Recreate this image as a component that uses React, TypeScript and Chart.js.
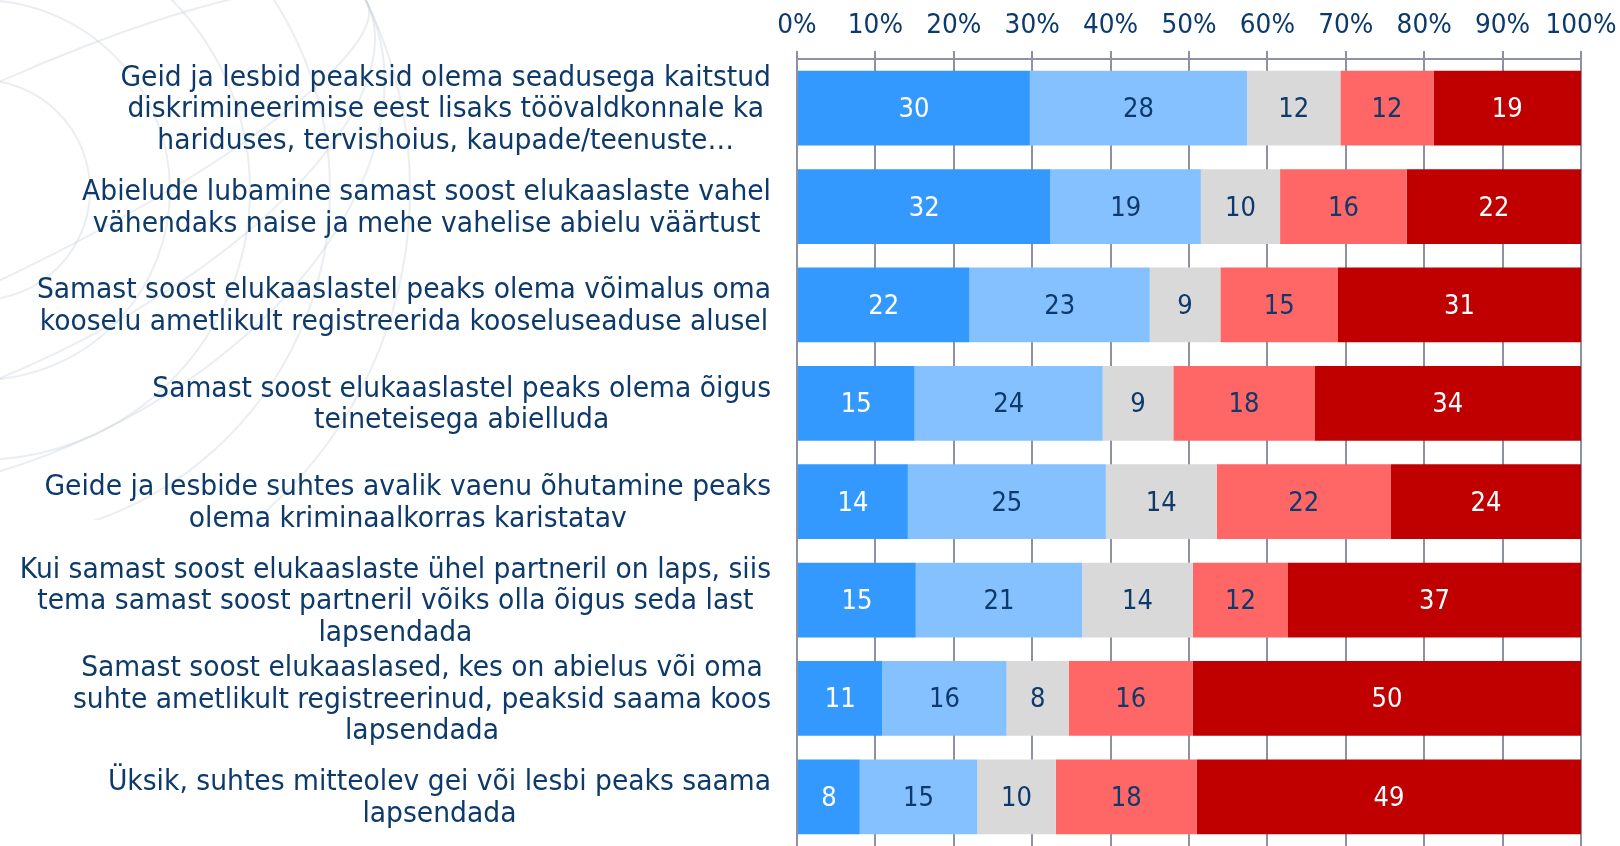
import React, { useEffect, useRef } from "react";
import { Chart, registerables } from "chart.js";

Chart.register(...registerables);

const categories: string[][] = [
  ["Geid ja lesbid peaksid olema seadusega kaitstud", "diskrimineerimise eest lisaks töövaldkonnale ka", "hariduses, tervishoius, kaupade/teenuste…"],
  ["Abielude lubamine samast soost elukaaslaste vahel", "vähendaks naise ja mehe vahelise abielu väärtust"],
  ["Samast soost elukaaslastel peaks olema võimalus oma", "kooselu ametlikult registreerida kooseluseaduse alusel"],
  ["Samast soost elukaaslastel peaks olema õigus", "teineteisega abielluda"],
  ["Geide ja lesbide suhtes avalik vaenu õhutamine peaks", "olema kriminaalkorras karistatav"],
  ["Kui samast soost elukaaslaste ühel partneril on laps, siis", "tema samast soost partneril võiks olla õigus seda last", "lapsendada"],
  ["Samast soost elukaaslased, kes on abielus või oma", "suhte ametlikult registreerinud, peaksid saama koos", "lapsendada"],
  ["Üksik, suhtes mitteolev gei või lesbi peaks saama", "lapsendada"],
];

const stronglyAgree = [30, 32, 22, 15, 14, 15, 11, 8];
const agree = [28, 19, 23, 24, 25, 21, 16, 15];
const dontKnow = [12, 10, 9, 9, 14, 14, 8, 10];
const disagree = [12, 16, 15, 18, 22, 12, 16, 18];
const stronglyDisagree = [19, 22, 31, 34, 24, 37, 50, 49];

const tickValues = [0, 10, 20, 30, 40, 50, 60, 70, 80, 90, 100];

const seriesNames = ["Täiesti nõus", "Pigem nõus", "Ei oska öelda", "Pigem ei ole nõus", "Üldse ei ole nõus"];
const seriesColors = ["#3399ff", "#85c1ff", "#d9d9d9", "#ff6666", "#c00000"];
const labelColors = ["#ffffff", "#0d3a6b", "#0d3a6b", "#0d3a6b", "#ffffff"];

const FONT = "'DejaVu Sans', Verdana, sans-serif";
const NAVY = "#0d3a6b";
const GRID = "#8d91a3";

function drawScaled(ctx: CanvasRenderingContext2D, text: string, x: number, y: number, sx: number) {
  ctx.save();
  ctx.translate(x, y);
  ctx.scale(sx, 1);
  ctx.fillText(text, 0, 0);
  ctx.restore();
}

export default function App() {
  const ref = useRef<HTMLCanvasElement | null>(null);

  useEffect(() => {
    document.body.style.margin = "0";
    const raw = [stronglyAgree, agree, dontKnow, disagree, stronglyDisagree];
    const totals = categories.map((_, i) => raw.reduce((s, arr) => s + arr[i], 0));

    const bgPlugin = {
      id: "bgArcs",
      beforeDraw(chart: any) {
        const ctx = chart.ctx;
        ctx.save();
        ctx.fillStyle = "#ffffff";
        ctx.fillRect(0, 0, chart.width, chart.height);
        ctx.beginPath();
        ctx.rect(0, 0, 520, 520);
        ctx.clip();
        ctx.strokeStyle = "rgba(200,207,218,0.38)";
        ctx.lineWidth = 2;
        const cx = -20, cy = 190;
        for (const r of [110, 190, 270, 350, 430]) {
          ctx.beginPath();
          ctx.arc(cx, cy, r, 0, Math.PI * 2);
          ctx.stroke();
        }
        for (const ry of [90, 180, 270]) {
          ctx.beginPath();
          ctx.ellipse(cx, cy, 430, ry, -0.45, 0, Math.PI * 2);
          ctx.stroke();
        }
        ctx.restore();
      },
    };

    const textPlugin = {
      id: "texts",
      afterDraw(chart: any) {
        const ctx = chart.ctx;
        const y = chart.scales.y;
        const x = chart.scales.x;
        ctx.save();
        ctx.fillStyle = NAVY;
        ctx.textAlign = "center";
        ctx.textBaseline = "middle";

        // x tick labels
        ctx.font = `27px ${FONT}`;
        tickValues.forEach((v) => {
          drawScaled(ctx, v + "%", x.getPixelForValue(v), 26, 0.92);
        });

        // category labels
        const right = chart.chartArea.left - 26;
        const lh = 31.5;
        const sx = 0.95;
        ctx.font = `28px ${FONT}`;
        categories.forEach((lines, i) => {
          const cy = y.getPixelForValue(i);
          const maxW = Math.max(...lines.map((l) => ctx.measureText(l).width)) * sx;
          const cx = right - maxW / 2;
          const top = cy - ((lines.length - 1) * lh) / 2;
          lines.forEach((l, j) => drawScaled(ctx, l, cx, top + j * lh + 2, sx));
        });
        ctx.restore();
      },
    };

    const valueLabelPlugin = {
      id: "valueLabels",
      afterDatasetsDraw(chart: any) {
        const ctx = chart.ctx;
        ctx.save();
        ctx.font = `27px ${FONT}`;
        ctx.textAlign = "center";
        ctx.textBaseline = "middle";
        chart.data.datasets.forEach((ds: any, di: number) => {
          const meta = chart.getDatasetMeta(di);
          meta.data.forEach((bar: any, i: number) => {
            ctx.fillStyle = labelColors[di];
            drawScaled(ctx, String(raw[di][i]), (bar.x + bar.base) / 2, bar.y + 2, 0.9);
          });
        });
        ctx.restore();
      },
    };

    const chart = new Chart(ref.current as HTMLCanvasElement, {
      type: "bar",
      data: {
        labels: categories.map((c) => c.join(" ")),
        datasets: raw.map((arr, di) => ({
          label: seriesNames[di],
          data: arr.map((v, i) => (v / totals[i]) * 100),
          backgroundColor: seriesColors[di],
          borderWidth: 0,
          categoryPercentage: 1,
          barPercentage: 0.76,
        })),
      },
      options: {
        indexAxis: "y",
        responsive: false,
        animation: false,
        layout: { padding: { left: 0, right: 39, top: 0, bottom: -3 } },
        plugins: { legend: { display: false }, tooltip: { enabled: false } },
        scales: {
          x: {
            position: "top",
            stacked: true,
            min: 0,
            max: 100,
            ticks: { stepSize: 10, display: false },
            grid: { color: GRID, lineWidth: 2, tickLength: 8 },
            border: { display: true, color: GRID, width: 2 },
            afterFit: (s: any) => {
              s.height = 59;
            },
          },
          y: {
            stacked: true,
            ticks: { display: false },
            grid: { display: false },
            border: { display: true, color: GRID, width: 2 },
            afterFit: (s: any) => {
              s.width = 797;
            },
          },
        },
      },
      plugins: [bgPlugin, textPlugin, valueLabelPlugin],
    } as any);
    return () => chart.destroy();
  }, []);

  return (
    <div style={{ position: "absolute", left: 0, top: 0, width: 1620, height: 846 }}>
      <canvas ref={ref} width={1620} height={846} />
    </div>
  );
}
